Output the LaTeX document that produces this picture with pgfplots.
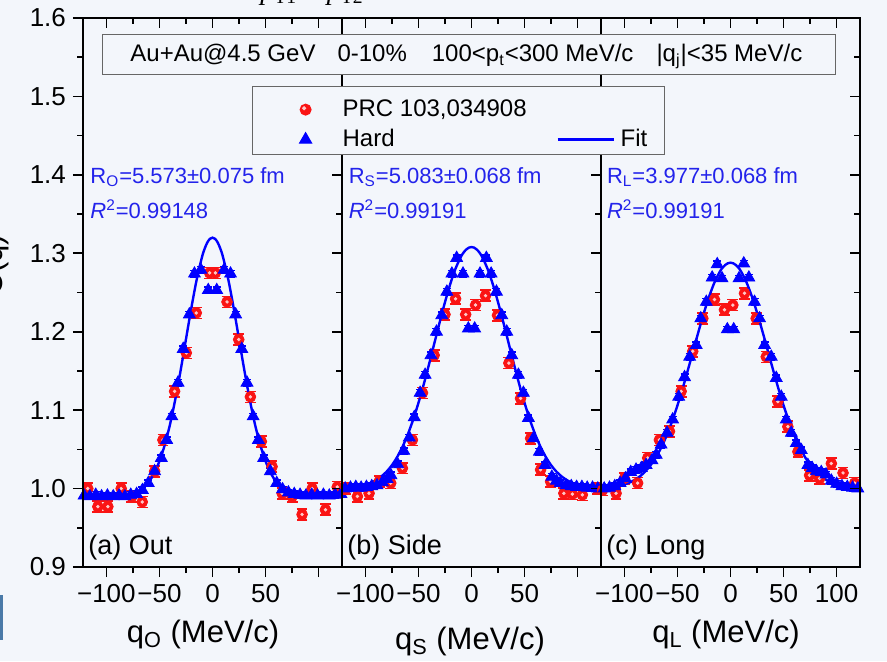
\documentclass[border=0pt]{standalone}
\usepackage{fontspec}
\setmainfont{Liberation Sans}
\newfontfamily\serifit{Liberation Serif}
\usepackage{pgfplots}
\usepackage{pgfplotstable}
\pgfplotsset{compat=1.18}
\definecolor{bgc}{RGB}{243,246,251}
\definecolor{txtblue}{RGB}{35,35,235}
\definecolor{artc}{RGB}{74,122,168}
\definecolor{ptred}{RGB}{250,20,20}
\definecolor{hilite}{RGB}{255,200,200}

% PRC 103,034908 data (red)
\pgfplotstableread{
x y
-117.5 1.000
-108 0.977
-98.6 0.977
-86 1.000
-76 0.990
-66.2 0.983
-54.5 1.022
-46.7 1.062
-35.7 1.124
-24.7 1.173
-15.3 1.224
-2.7 1.275
2.7 1.275
13.7 1.238
24.7 1.190
35.7 1.117
46 1.060
56.1 1.028
65.6 0.994
75 0.990
84.4 0.967
93.9 1.000
106.4 0.973
117.5 1.002
}\redA
\pgfplotstableread{
x y
-118.6 1.000
-107.5 0.990
-96.5 0.994
-87 1.009
-76.1 1.007
-65.1 1.026
-55.7 1.062
-46.2 1.122
-35.2 1.170
-25 1.222
-15 1.242
-5.5 1.222
3.8 1.234
13.2 1.246
24.5 1.221
35.2 1.160
46.2 1.115
55.7 1.064
65.1 1.024
74.5 1.009
87 0.994
95 0.993
104.4 0.992
118.6 1.000
}\redB
\pgfplotstableread{
x y
-120.5 0.998
-107.8 0.994
-100 1.013
-87.5 1.007
-78 1.039
-67 1.062
-57.5 1.073
-46.5 1.124
-35.6 1.175
-26.1 1.217
-15.1 1.241
-5.7 1.228
2.2 1.234
13.2 1.249
24.2 1.217
33.7 1.168
44.6 1.111
54 1.079
63.5 1.047
74.5 1.017
84 1.013
95 1.032
106 1.020
117 1.007
}\redC

\pgfplotsset{
  legred/.style={legend image code/.code={%
      \path[draw=none,fill=none] (0pt,-5.5pt) rectangle (45pt,9.5pt);
      \draw[##1] plot coordinates {(26.5pt,0pt)};
      \draw[hilite, only marks, mark=*, mark size=0.7pt, mark options={fill=hilite, draw=hilite}] plot coordinates {(25.8pt,0.7pt)};}},
  legmark/.style={legend image code/.code={%
      \path[draw=none,fill=none] (0pt,-5.5pt) rectangle (45pt,9.5pt);
      \draw[##1] plot coordinates {(26.5pt,0pt)};}},
  legline/.style={legend image code/.code={%
      \path[draw=none,fill=none] (0pt,-5.5pt) rectangle (47pt,9.5pt);
      \draw[##1] (15.5pt,0pt) -- (43.5pt,0pt);}},
  panel/.style={
    scale only axis, width=129.5pt, height=274.5pt,
    xmin=-122, xmax=122, ymin=0.9, ymax=1.6,
    axis line style={line width=0.9pt, black},
    major tick length=5pt, minor tick length=3pt,
    every tick/.append style={line width=0.8pt, black},
    xtick={-100,-50,0,50,100}, minor xtick={-75,-25,25,75},
    ytick={0.9,1.0,1.1,1.2,1.3,1.4,1.5,1.6},
    minor ytick={0.95,1.05,1.15,1.25,1.35,1.45,1.55},
    tick label style={font=\fontsize{13}{13}\selectfont},
  },
  mainax/.style={panel, tick align=outside, xtick pos=left, ytick pos=left},
  overax/.style={panel, tick align=inside, xtick pos=right, ytick pos=right, xticklabels={}, yticklabels={}},
  redpts/.style={only marks, mark=*, mark size=2.7pt, mark options={fill=ptred, draw=ptred}, color=ptred,
    error bars/y dir=both, error bars/y fixed=0.007,
    error bars/error bar style={ptred, line width=0.8pt},
    error bars/error mark options={rotate=90, ptred, mark size=2.7pt, line width=0.8pt}},
  reddots/.style={hilite, only marks, mark=*, mark size=0.65pt, mark options={fill=hilite, draw=hilite}},
  bluepts/.style={only marks, mark=triangle*, mark size=3.4pt, color=blue, mark options={fill=blue, draw=blue},
    error bars/y dir=both, error bars/y fixed=0.004,
    error bars/error bar style={blue, line width=0.7pt},
    error bars/error mark options={rotate=90, blue, mark size=2pt, line width=0.7pt}},
  fitline/.style={blue, line width=1.2pt, smooth, no marks},
}
\begin{document}
\begin{tikzpicture}
\useasboundingbox (0,0) rectangle (443.5pt,330.5pt);
\fill[bgc] (0,0) rectangle (443.5pt,330.5pt);
\fill[artc] (0,10.5pt) rectangle (1.5pt,33pt);
\node[anchor=base west, inner sep=0pt, font=\serifit\fontsize{14}{14}\selectfont] at (130pt,330.8pt)
  {\textit{p}\textsubscript{T1} − \textit{p}\textsubscript{T2}};

% ---------------- (a) Out ----------------
\begin{axis}[mainax, at={(41.5pt,47pt)}, anchor=south west,
  xticklabels={−100,−50,0,50,{}},
  yticklabels={0.9,1.0,1.1,1.2,1.3,1.4,1.5,1.6}]
\addplot[redpts] table {\redA};
\addplot[reddots] table {\redA};
\addplot[bluepts] coordinates {
(-121,0.991) (-115.5,0.990) (-110,0.992) (-104.5,0.990) (-99,0.991) (-93.5,0.990)
(-88,0.991) (-82.5,0.990) (-77,0.992) (-71.5,0.993) (-66,0.998) (-60.5,1.007)
(-54.5,1.022) (-48.2,1.039) (-43.2,1.062) (-38.3,1.092) (-32.5,1.135) (-27.6,1.178)
(-21.8,1.222) (-17,1.274) (-11,1.279) (-4,1.253) (4,1.253) (11,1.279) (17,1.274)
(21.8,1.222) (27.6,1.178) (32.5,1.135) (38.3,1.092) (43.2,1.062) (48.2,1.039)
(54.5,1.022) (60.5,1.007) (66,0.999) (71.5,0.995) (77,0.993) (82.5,0.992) (88,0.991)
(93.5,0.992) (99,0.991) (104.5,0.992) (110,0.991) (115.5,0.992) (121,0.993)};
\addplot[fitline] coordinates {
(-122,0.990) (-110,0.990) (-100,0.9901) (-90,0.9905) (-85,0.9910) (-80,0.9920)
(-75,0.9937) (-70,0.9966) (-65,1.0013) (-60,1.0086) (-55,1.0195) (-50,1.0349)
(-45,1.0556) (-40,1.0820) (-35,1.1141) (-30,1.1509) (-25,1.1904) (-20,1.2298)
(-15,1.2657) (-10,1.2947) (-7.5,1.3055) (-5,1.3135) (-2.5,1.3184) (0,1.320)
(2.5,1.3184) (5,1.3135) (7.5,1.3055) (10,1.2947) (15,1.2657) (20,1.2298)
(25,1.1904) (30,1.1509) (35,1.1141) (40,1.0820) (45,1.0556) (50,1.0349)
(55,1.0195) (60,1.0086) (65,1.0013) (70,0.9966) (75,0.9937) (80,0.9920)
(85,0.9910) (90,0.9905) (100,0.9901) (110,0.990) (122,0.990)};
\end{axis}
\begin{axis}[overax, at={(41.5pt,47pt)}, anchor=south west]
\end{axis}

% ---------------- (b) Side ----------------
\begin{axis}[mainax, at={(171pt,47pt)}, anchor=south west,
  xticklabels={−100,−50,0,50,{}}, yticklabels={}]
\addplot[redpts] table {\redB};
\addplot[reddots] table {\redB};
\addplot[bluepts] coordinates {
(-119,1.000) (-114,1.001) (-109,1.002) (-104,1.001) (-99,1.002) (-94,1.003)
(-89,1.004) (-84,1.008) (-79.5,1.012) (-75.9,1.017) (-69.6,1.031) (-63.8,1.048)
(-58.6,1.065) (-53.9,1.091) (-48.4,1.122) (-43.7,1.145) (-38.2,1.170) (-33,1.200)
(-28,1.221) (-23.2,1.251) (-18.5,1.274) (-14,1.294) (-8,1.274) (-3,1.204)
(3,1.204) (8,1.274) (14,1.294) (18.5,1.274) (23.5,1.251) (28.5,1.221) (33.2,1.200)
(37.9,1.170) (44.2,1.145) (48.9,1.122) (53.6,1.090) (58.3,1.064) (64,1.047)
(69.3,1.030) (75.7,1.015) (80,1.010) (83.5,1.007) (89,1.004) (94,1.003) (99,1.002)
(104,1.002) (109,1.001) (114,1.001) (119,1.000)};
\addplot[fitline] coordinates {
(-122,1.0006) (-110,1.0020) (-100,1.0049) (-95,1.0073) (-90,1.0107) (-85,1.0154)
(-80,1.0216) (-75,1.0298) (-70,1.0403) (-65,1.0533) (-60,1.0691) (-55,1.0878)
(-50,1.1092) (-45,1.1329) (-40,1.1586) (-35,1.1853) (-30,1.2120) (-25,1.2376)
(-20,1.2609) (-15,1.2806) (-10,1.2955) (-7.5,1.3009) (-5,1.3048) (-2.5,1.3072) (0,1.308)
(2.5,1.3072) (5,1.3048) (7.5,1.3009) (10,1.2955) (15,1.2806) (20,1.2609)
(25,1.2376) (30,1.2120) (35,1.1853) (40,1.1586) (45,1.1329) (50,1.1092)
(55,1.0878) (60,1.0691) (65,1.0533) (70,1.0403) (75,1.0298) (80,1.0216)
(85,1.0154) (90,1.0107) (95,1.0073) (100,1.0049) (110,1.0020) (122,1.0006)};
\end{axis}
\begin{axis}[overax, at={(171pt,47pt)}, anchor=south west]
\end{axis}

% ---------------- (c) Long ----------------
\begin{axis}[mainax, at={(300.5pt,47pt)}, anchor=south west,
  xticklabels={−100,−50,0,50,100}, yticklabels={}]
\addplot[redpts] table {\redC};
\addplot[reddots] table {\redC};
\addplot[bluepts] coordinates {
(-119,1.000) (-114,1.001) (-109,1.003) (-104,1.007) (-99,1.013) (-94,1.021)
(-89,1.024) (-84,1.026) (-79.5,1.030) (-74,1.036) (-70,1.043) (-65.4,1.056)
(-59.8,1.071) (-54.5,1.088) (-48.8,1.117) (-43.3,1.142) (-38.5,1.168) (-32.3,1.183)
(-28,1.217) (-22.8,1.238) (-17.3,1.269) (-12.5,1.286) (-8,1.268) (-3,1.203)
(3,1.203) (8,1.268) (12.5,1.287) (17.3,1.269) (22.6,1.238) (27.4,1.217) (32.1,1.183)
(38.4,1.168) (43.1,1.141) (47.8,1.117) (52.5,1.088) (57.3,1.071) (62,1.058)
(66.7,1.049) (72.9,1.030) (77,1.026) (81,1.022) (85.5,1.021) (90,1.018) (95,1.010)
(100,1.006) (105,1.003) (110,1.002) (115,1.001) (120,1.000)};
\addplot[fitline] coordinates {
(-122,1.0008) (-110,1.0023) (-100,1.0053) (-95,1.0078) (-90,1.0113) (-85,1.0160)
(-80,1.0223) (-75,1.0304) (-70,1.0406) (-65,1.0531) (-60,1.0682) (-55,1.0859)
(-50,1.1060) (-45,1.1281) (-40,1.1519) (-35,1.1764) (-30,1.2009) (-25,1.2243)
(-20,1.2454) (-15,1.2632) (-10,1.2767) (-7.5,1.2816) (-5,1.2851) (-2.5,1.2873) (0,1.288)
(2.5,1.2873) (5,1.2851) (7.5,1.2816) (10,1.2767) (15,1.2632) (20,1.2454)
(25,1.2243) (30,1.2009) (35,1.1764) (40,1.1519) (45,1.1281) (50,1.1060)
(55,1.0859) (60,1.0682) (65,1.0531) (70,1.0406) (75,1.0304) (80,1.0223)
(85,1.0160) (90,1.0113) (95,1.0078) (100,1.0053) (110,1.0023) (122,1.0008)};
\end{axis}
\begin{axis}[overax, at={(300.5pt,47pt)}, anchor=south west,
  legend columns=2,
  legend style={at={(-1.3475,0.8761)}, anchor=north west, draw=black!60, line width=0.6pt,
    fill=bgc, inner xsep=0pt, inner ysep=2pt, row sep=0pt, column sep=0pt,
    font=\fontsize{12}{14}\selectfont, nodes={inner sep=0pt}},
  legend cell align=left]
\addlegendimage{only marks, mark=*, mark size=2.7pt, mark options={fill=ptred, draw=ptred}, legred}
\addlegendentry{PRC 103,034908}
\addlegendimage{empty legend}
\addlegendentry{}
\addlegendimage{only marks, mark=triangle*, mark size=3.4pt, blue, mark options={fill=blue, draw=blue}, legmark}
\addlegendentry{Hard}
\addlegendimage{blue, line width=1.2pt, legline}
\addlegendentry{Fit\hspace*{8.5pt}}
\end{axis}

% ---------------- texts ----------------
\node[draw=black!60, line width=0.6pt, fill=bgc, minimum width=366.5pt, minimum height=20pt,
  inner sep=0pt, anchor=south west] at (51pt,293pt) {};
\node[anchor=base west, inner sep=0pt, font=\fontsize{12}{14}\selectfont] at (65pt,299.7pt)
  {Au+Au@4.5 GeV\hspace{11pt}0-10\%\hspace{12.5pt}100<p\textsubscript{t}<300 MeV/c\hspace{11.5pt}|q\textsubscript{j}|<35 MeV/c};

\begin{scope}[every node/.style={anchor=base west, inner sep=0pt, text=txtblue, font=\fontsize{11}{12}\selectfont}]
\node at (45pt,238.8pt) {R\textsubscript{O}=5.573±0.075 fm};
\node at (45pt,221.3pt) {\textit{R}\textsuperscript{2}=0.99148};
\node at (174.2pt,238.8pt) {R\textsubscript{S}=5.083±0.068 fm};
\node at (174.2pt,221.3pt) {\textit{R}\textsuperscript{2}=0.99191};
\node at (303.3pt,238.8pt) {R\textsubscript{L}=3.977±0.068 fm};
\node at (303.3pt,221.3pt) {\textit{R}\textsuperscript{2}=0.99191};
\end{scope}

\begin{scope}[every node/.style={anchor=base west, inner sep=0pt, font=\fontsize{13.5}{14}\selectfont}]
\node at (44pt,53.5pt) {(a) Out};
\node at (173.5pt,53.5pt) {(b) Side};
\node at (303pt,53.5pt) {(c) Long};
\end{scope}

\begin{scope}[every node/.style={anchor=base, inner sep=0pt, font=\fontsize{15.5}{16}\selectfont}]
\node at (101.5pt,9.5pt) {q\textsubscript{O} (MeV/c)};
\node at (235pt,6pt) {q\textsubscript{S} (MeV/c)};
\node at (363pt,9.5pt) {q\textsubscript{L} (MeV/c)};
\node[rotate=90] at (1.25pt,198pt) {C(q)};
\end{scope}
\end{tikzpicture}
\end{document}
